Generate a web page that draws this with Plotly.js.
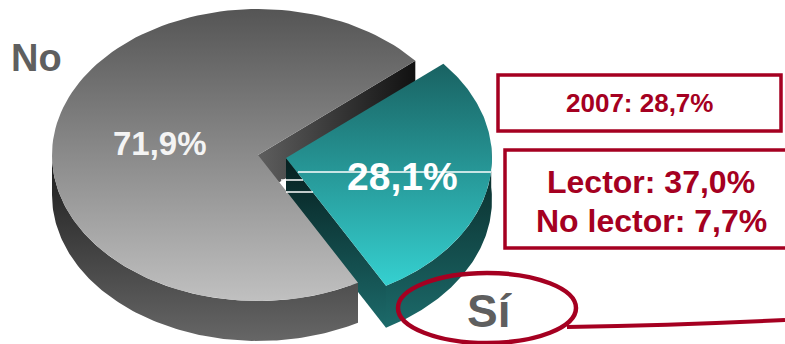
<!DOCTYPE html>
<html>
<head>
<meta charset="utf-8">
<script src="https://cdn.plot.ly/plotly-3.0.1.min.js"></script>
<style>html,body{margin:0;padding:0;background:#fff}#c{width:785px;height:344px}</style>
</head>
<body>
<div id="c"></div>
<script>
// Data
const categories = ['No', 'Sí'];
const values = [71.9, 28.1];
const previousYear = '2007: 28,7%';
const breakdown = ['Lector: 37,0%', 'No lector: 7,7%'];

// Colours
const RED = '#a50021', LABEL = '#5f5f5f';

// Pie geometry in the pixel-like axis space
const W = 785, H = 344, RX = 206, RY = 146;
const noC = {x: 258, y: 155, d: 40}, siC = {x: 286, y: 158, d: 42};
const total = values[0] + values[1];
const siStart = -40.2, siEnd = siStart + values[1] / total * 360;
const noStart = siEnd, noEnd = siStart + 360;

function arc(c, a0, a1, dy) {
  const xs = [], ys = [], n = 120;
  for (let i = 0; i <= n; i++) {
    const t = (a0 + (a1 - a0) * i / n) * Math.PI / 180;
    xs.push(c.x + RX * Math.cos(t));
    ys.push(c.y + RY * Math.sin(t) + (dy || 0));
  }
  return {x: xs, y: ys};
}
function poly(x, y, fillgradient) {
  return {type: 'scatter', x, y, mode: 'lines', fill: 'toself', line: {width: 0},
    hoverinfo: 'skip', showlegend: false, fillgradient};
}
// c0 is the colour at the top of the picture (the y axis runs downwards)
function vgrad(c0, c1) {
  return {type: 'vertical', colorscale: [[0, c1], [1, c0]]};
}
function sector(c, a0, a1, g) {
  const p = arc(c, a0, a1);
  return poly([c.x, ...p.x, c.x], [c.y, ...p.y, c.y], g);
}
function rim(c, a0, a1, g) {
  const p = arc(c, a0, a1), q = arc(c, a1, a0, c.d);
  return poly([...p.x, ...q.x, p.x[0]], [...p.y, ...q.y, p.y[0]], g);
}
function wall(c, a, g) {
  const p = arc(c, a, a);
  const ex = p.x[0], ey = p.y[0];
  return poly([c.x, ex, ex, c.x, c.x], [c.y, ey, ey + c.d, c.y + c.d, c.y], g);
}

const traces = [
  wall(noC, siStart, {type: 'horizontal', colorscale: [[0, '#5e5e5e'], [0.55, '#333333'], [1, '#111111']]}),
  rim(siC, -5, siEnd, vgrad('#082624', '#1c6a6a')),
  wall(siC, siEnd, vgrad('#061f1f', '#1c6a6a')),
  sector(siC, siStart, siEnd, vgrad('#196262', '#35d0d0')),
  rim(noC, noStart, 180, vgrad('#1c1c1c', '#666666')),
  sector(noC, noStart, noEnd, vgrad('#555555', '#c0c0c0'))
];

const pct = v => v.toFixed(1).replace('.', ',') + '%';
const FONT = 'Liberation Sans, Arial, sans-serif';
function note(x, y, text, size, color) {
  return {x, y, text, xref: 'x', yref: 'y', showarrow: false, xanchor: 'center', yanchor: 'middle',
    font: {family: FONT, size, color, weight: 700}};
}
const annotations = [
  note(36, 58, categories[0], 38, LABEL),
  note(160, 143, pct(values[0]), 33, '#f4f4f4'),
  note(402, 176, pct(values[1]), 39, '#ffffff'),
  note(490, 311, categories[1], 46, LABEL),
  note(639, 103, previousYear, 26, RED),
  note(651, 182, breakdown[0], 32, RED),
  note(651, 221, breakdown[1], 32, RED)
];
function ln(x0, y0, x1, y1, color, width) {
  return {type: 'line', xref: 'x', yref: 'y', x0, y0, x1, y1, line: {color, width}};
}
function box(x0, y0, x1, y1) {
  return {type: 'rect', xref: 'x', yref: 'y', x0, y0, x1, y1, line: {color: RED, width: 3.5}, fillcolor: 'rgba(0,0,0,0)'};
}
const shapes = [
  ln(298, 172, 491, 172, '#ffffff', 1.5),
  ln(281, 180, 303, 180, '#ffffff', 1.5),
  ln(286, 192, 313, 192, '#ffffff', 1.5),
  box(498, 75, 781, 131),
  box(505, 150, 790, 248),
  {type: 'circle', xref: 'x', yref: 'y', x0: 398, y0: 273, x1: 576, y1: 343, line: {color: RED, width: 4.5}},
  {type: 'path', xref: 'x', yref: 'y', path: 'M 567 327 Q 680 325 785 320', line: {color: RED, width: 4}}
];

Plotly.newPlot('c', traces, {
  width: W, height: H,
  margin: {l: 0, r: 0, t: 0, b: 0},
  paper_bgcolor: '#ffffff', plot_bgcolor: '#ffffff',
  xaxis: {range: [0, W], visible: false, fixedrange: true},
  yaxis: {range: [H, 0], visible: false, fixedrange: true},
  showlegend: false,
  annotations, shapes
}, {displayModeBar: false, staticPlot: true});
</script>
</body>
</html>
